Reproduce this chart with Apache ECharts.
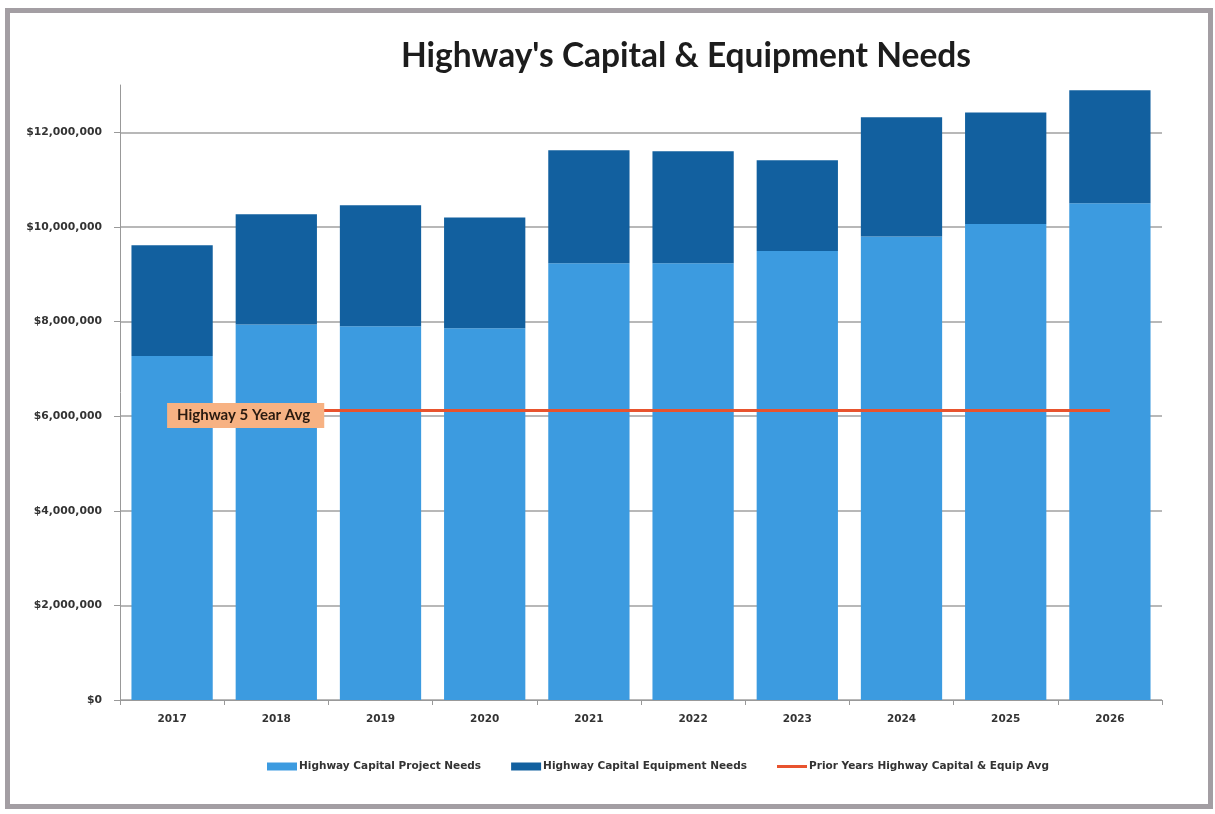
<!DOCTYPE html>
<html>
<head>
<meta charset="utf-8">
<script src="https://cdn.jsdelivr.net/npm/echarts@6/dist/echarts.min.js"></script>
<style>
html,body{margin:0;padding:0;background:#fff;}
#frame{position:absolute;left:5px;top:8px;width:1198px;height:791px;border:5px solid #a39ea3;background:#fff;}
#chart{position:absolute;left:0;top:0;width:1215px;height:814px;}
</style>
</head>
<body>
<div id="frame"></div>
<div id="chart"></div>
<script>
const years = ['2017','2018','2019','2020','2021','2022','2023','2024','2025','2026'];
const projectNeeds = [7270000, 7940000, 7900000, 7860000, 9230000, 9230000, 9490000, 9800000, 10060000, 10500000];
const equipmentNeeds = [2340000, 2330000, 2560000, 2340000, 2390000, 2370000, 1920000, 2520000, 2360000, 2390000];
const priorAvg = [6120000, 6120000, 6120000, 6120000, 6120000, 6120000, 6120000, 6120000, 6120000, 6120000];
const avgLabel = 'Highway 5 Year Avg';

const chart = echarts.init(document.getElementById('chart'), null, {renderer:'canvas'});
const font = 'Lato, "Open Sans", sans-serif';
const smallFont = '"DejaVu Sans", sans-serif';
const gridColors = ['#a0a0a0','#a0a0a0','#a0a0a0','#a0a0a0','#a0a0a0','#a0a0a0','#a0a0a0','transparent'];
const lineIcon = 'path://M0,0 L0.01,0 L0,0.01 Z M0,2.5 L30,2.5 L30,5.5 L0,5.5 Z M30,8 L29.99,8 L30,7.99 Z';
chart.setOption({
  backgroundColor: 'transparent',
  animation: false,
  title: {
    text: "Highway's Capital & Equipment Needs",
    left: 681, top: 34, textAlign: 'center',
    textStyle: {fontFamily: font, fontSize: 33.5, fontWeight: 'bold', color: '#1c1c1c'}
  },
  legend: {
    left: 262, top: 756,
    itemGap: 30, itemWidth: 30, itemHeight: 8,
    textStyle: {fontFamily: smallFont, fontSize: 10.5, fontWeight: 'bold', color: '#333', padding: [0, 0, 0, -3]},
    data: [
      {name: 'Highway Capital Project Needs', icon: 'rect'},
      {name: 'Highway Capital Equipment Needs', icon: 'rect'},
      {name: 'Prior Years Highway Capital & Equip Avg', icon: lineIcon}
    ]
  },
  grid: {left: 120, right: 53, top: 85, bottom: 114},
  xAxis: {
    type: 'category', data: years,
    axisLine: {lineStyle: {color: '#999', width: 1}},
    axisTick: {show: true, alignWithLabel: false, length: 5, lineStyle: {color: '#999'}},
    axisLabel: {fontFamily: smallFont, fontSize: 10.5, fontWeight: 'bold', color: '#333', margin: 14}
  },
  yAxis: {
    type: 'value', min: 0, max: 13000000, interval: 2000000,
    axisLine: {show: true, lineStyle: {color: '#999'}},
    axisTick: {show: true, length: 6, lineStyle: {color: '#999'}},
    splitLine: {show: true, lineStyle: {color: gridColors, width: 1.5}},
    axisLabel: {
      fontFamily: smallFont, fontSize: 10.8, fontWeight: 'bold', color: '#333', margin: 18,
      showMaxLabel: false,
      formatter: v => v === 13000000 ? '' : '$' + v.toLocaleString('en-US')
    }
  },
  series: [
    {
      name: 'Highway Capital Project Needs', type: 'bar', stack: 'total',
      data: projectNeeds, barCategoryGap: '22%',
      itemStyle: {color: '#3c9be0'}
    },
    {
      name: 'Highway Capital Equipment Needs', type: 'bar', stack: 'total',
      data: equipmentNeeds, barCategoryGap: '22%',
      itemStyle: {color: '#12609f'}
    },
    {
      name: 'Prior Years Highway Capital & Equip Avg', type: 'line',
      data: priorAvg.map((v, i) => i === 0 ? {
        value: v,
        label: {
          show: true, position: 'right', distance: 0, offset: [-5, 5],
          formatter: avgLabel,
          backgroundColor: '#f7b283', padding: [5, 14, 5, 10],
          fontFamily: font, fontSize: 15, fontWeight: 'bold', color: '#2a1a10'
        }
      } : v),
      symbol: 'circle', symbolSize: 0, showSymbol: true, z: 5,
      lineStyle: {color: '#e8532e', width: 3},
      itemStyle: {color: '#e8532e'}
    }
  ]
});
</script>
</body>
</html>
